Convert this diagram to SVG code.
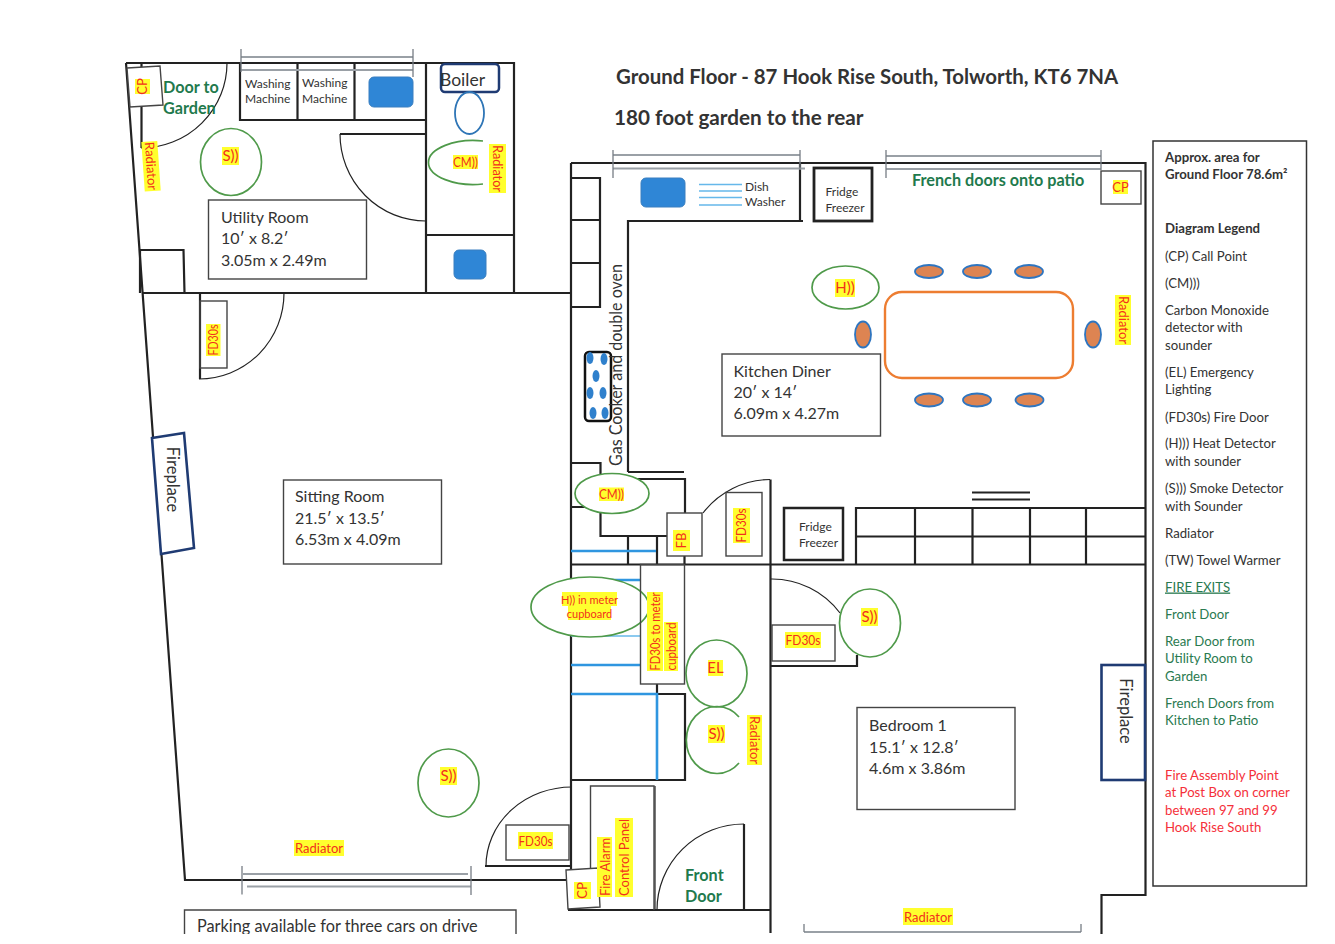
<svg xmlns="http://www.w3.org/2000/svg" width="1335" height="944" viewBox="0 0 1335 944">
<style>
text{font-family:Lato,"Liberation Sans",sans-serif;fill:#333}
.w{fill:none;stroke:#222;stroke-width:2.2}
.t{fill:none;stroke:#222;stroke-width:1.2}
.b{fill:none;stroke:#444;stroke-width:1.4}
.g{fill:none;stroke:#9aa0a6;stroke-width:1.8}
.gt{fill:none;stroke:#777d85;stroke-width:1.3}
.det{fill:#fff;stroke:#4f9a4a;stroke-width:1.7}
.detn{fill:none;stroke:#4f9a4a;stroke-width:1.7}
.hl{fill:#ffff2e}
.lb{fill:#f2301c;font-size:13px;text-anchor:middle}
.big{font-size:15px}
.sm{font-size:12px}
.rm{font-size:16px}
.sink{fill:#2f86d6;stroke:#3a7fc0;stroke-width:1}
.pipe{fill:none;stroke:#2f96e0;stroke-width:2.6}
.lt{fill:none;stroke:#66b8ea;stroke-width:1.6}
.hob{fill:#2f80cc}
.chair{fill:#dd8452;stroke:#2e75c0;stroke-width:1.8}
.nav{fill:#fff;stroke:#1f3b73;stroke-width:2.6}
.grn{fill:#1f7a4d;font-weight:700;font-size:16.2px}
.lg{font-size:13.2px;fill:#333}
.lgg{font-size:13.2px;fill:#2a7a50}
.lgr{font-size:13.2px;fill:#f5303a}
</style>
<rect width="1335" height="944" fill="#fff"/>

<g id="walls">
<path class="w" d="M126,63H514V293M126,63L185,880H567M141.500,63V148M426,63V293M426,235H514"/>
<path class="w" d="M240,63V120H426M297.500,63V120M354.500,63V120M340,134H426"/>
<path class="w" d="M140,293V250H183.500L184.500,293"/>
<path class="w" d="M142,293H571" style="stroke-width:1.800"/>
<path class="w" d="M200,293V379"/>
<path class="w" d="M485,866H572"/>
<path class="w" d="M571,163H1145.500V895H1101.500V934M571,163V870M628,472V221H803M800,163V221"/>
<path class="w" d="M571,178H600V307H571M571,220H600M571,263H600"/>
<path class="w" d="M571,463H600.500V507H571M600.500,507V536H667M628,472H684M628,479H685V513M628,536V564M657,536V564M684.500,556V564M571,564.500H1145"/>
<path class="w" d="M770.500,479.500V933"/>
<path class="w" d="M856,564V508H1145M856,536.500H1145M915,508V564M972.500,508V564M1030,508V564M1086,508V564M972,492.500H1030M972,499.500H1030"/>
<path class="w" d="M771,666H857V655"/>
<path class="w" d="M657,684V694H685V780H571M568,910H771M744,824V910"/>
</g>

<g id="doors">
<path class="t" d="M227,63A86 85 0 0 1 141,148M340,134A86 87 0 0 0 426,221M284,293A85 86 0 0 1 199,379M572,787A86 79 0 0 0 486,866M770,479.500A85 85 0 0 0 703,513M771,579A85 85 0 0 1 840,613"/>
<path class="t" d="M744,824A87 86 0 0 0 657,910M655,786V910"/>
</g>

<g id="windows">
<path class="g" d="M241,57H413M241,70H413M613,155H800M613,168.500H805M886,156H1101M886,169H1101M243,874H468M247,886.500H471M804,932H1081"/>
<path class="gt" d="M241,49V72M413,49V77M613,150V178M800,150V170M886,150V178M1101,150V170M242,866V894.500M471,866V895M804,924V932M1081,924V932"/>
</g>

<g id="fixtures">
<rect class="sink" x="369" y="77" width="44" height="30" rx="5"/>
<rect class="sink" x="454" y="250" width="32" height="29" rx="5"/>
<rect class="sink" x="641" y="178" width="44" height="29" rx="5"/>
<path class="lt" d="M699,184.500H742M699,191H742M699,197.500H742M699,205H742"/>
<rect x="441" y="64" width="58" height="28" rx="4" fill="none" stroke="#1f3b73" stroke-width="2.500"/>
<ellipse cx="469.500" cy="113" rx="14.500" ry="21" fill="none" stroke="#2e75b6" stroke-width="1.800"/>
<rect x="585" y="352" width="26" height="69" rx="4" fill="none" stroke="#111" stroke-width="2.500"/>
<g class="hob">
<ellipse cx="590" cy="358" rx="3.500" ry="6"/><ellipse cx="604" cy="359" rx="3.500" ry="6"/><ellipse cx="596" cy="376" rx="3.500" ry="6"/><ellipse cx="590" cy="393" rx="3.500" ry="6"/><ellipse cx="603" cy="393" rx="3.500" ry="6"/><ellipse cx="593" cy="413" rx="3.500" ry="6"/><ellipse cx="605" cy="413" rx="3.500" ry="6"/>
</g>
<path class="pipe" d="M571,551H656M571,580H640M571,665H640M571,694H657V780"/>
<path class="lt" d="M571,636H640"/>
</g>

<g id="table">
<rect x="885" y="292" width="188" height="86" rx="17" fill="#fff" stroke="#ed7d31" stroke-width="2.400"/>
<ellipse class="chair" cx="929" cy="271.500" rx="14" ry="6.500"/><ellipse class="chair" cx="977" cy="271.500" rx="14" ry="6.500"/><ellipse class="chair" cx="1029" cy="271.500" rx="14" ry="6.500"/>
<ellipse class="chair" cx="929" cy="400" rx="14" ry="6.500"/><ellipse class="chair" cx="977" cy="400" rx="14" ry="6.500"/><ellipse class="chair" cx="1029.500" cy="400" rx="14" ry="6.500"/>
<ellipse class="chair" cx="863" cy="334.500" rx="8" ry="13"/><ellipse class="chair" cx="1093" cy="334.500" rx="8" ry="13"/>
</g>

<g id="appliance-labels">
<text class="sm" x="245" y="88">Washing</text><text class="sm" x="245" y="103">Machine</text>
<text class="sm" x="302" y="87">Washing</text><text class="sm" x="302" y="103">Machine</text>
<text x="440" y="85.500" font-size="17.500">Boiler</text>
<text class="sm" x="745" y="191">Dish</text><text class="sm" x="745" y="206">Washer</text>
<rect x="814" y="168" width="58" height="53" fill="none" stroke="#222" stroke-width="2.800"/>
<text class="sm" x="825.500" y="196">Fridge</text><text class="sm" x="825.500" y="212">Freezer</text>
<rect x="784" y="508" width="59" height="52" fill="none" stroke="#222" stroke-width="2.500"/>
<text class="sm" x="799" y="531">Fridge</text><text class="sm" x="799" y="547">Freezer</text>
<text transform="rotate(-90 622 466)" x="622" y="466" font-size="17" textLength="202" lengthAdjust="spacingAndGlyphs">Gas Cooker and double oven</text>
</g>

<g id="exit-labels">
<text class="grn" x="163" y="93">Door to</text><text class="grn" x="163" y="114">Garden</text>
<text class="grn" x="912" y="186">French doors onto patio</text>
<text class="grn" x="685" y="881">Front</text><text class="grn" x="685" y="902">Door</text>
</g>

<g id="fireplaces">
<path class="nav" d="M152,438L184,433L194,548L161,554Z"/>
<text transform="rotate(90 172 479.500)" x="172" y="484.500" font-size="16.500" text-anchor="middle">Fireplace</text>
<rect class="nav" x="1101.500" y="665" width="43.500" height="115"/>
<text transform="rotate(90 1125 711)" x="1125" y="716" font-size="16.500" text-anchor="middle">Fireplace</text>
</g>

<g id="room-utility">
<rect class="b" x="208.500" y="200" width="158" height="79"/>
<text class="rm" x="221" y="223">Utility Room</text><text class="rm" x="221" y="244">10′ x 8.2′</text><text class="rm" x="221" y="266">3.05m x 2.49m</text>
</g>
<g id="room-sitting">
<rect class="b" x="283.500" y="480" width="158" height="84"/>
<text class="rm" x="295" y="502">Sitting Room</text><text class="rm" x="295" y="524">21.5′ x 13.5′</text><text class="rm" x="295" y="545">6.53m x 4.09m</text>
</g>
<g id="room-kitchen">
<rect class="b" x="722" y="354" width="158.500" height="82"/>
<text class="rm" x="733.500" y="377">Kitchen Diner</text><text class="rm" x="733.500" y="398">20′ x 14′</text><text class="rm" x="733.500" y="419">6.09m x 4.27m</text>
</g>
<g id="room-bedroom">
<rect class="b" x="857" y="707.500" width="158" height="102"/>
<text class="rm" x="869" y="731">Bedroom 1</text><text class="rm" x="869" y="753">15.1′ x 12.8′</text><text class="rm" x="869" y="774">4.6m x 3.86m</text>
</g>
<g id="parking">
<path class="b" d="M184.500,940V910H516V940"/>
<text x="197" y="932" font-size="16.300">Parking available for three cars on drive</text>
</g>

<g id="detectors">
<ellipse class="detn" cx="231" cy="162" rx="30.500" ry="33.500"/>
<rect class="hl" x="222" y="147" width="17" height="18"/><text class="lb big" x="230.500" y="161">S))</text>
<path class="detn" d="M483,141A45 22 0 1 0 483,184"/>
<rect class="hl" x="453" y="155" width="25" height="14"/><text class="lb" x="465.500" y="166.500" textLength="25" lengthAdjust="spacingAndGlyphs">CM))</text>
<ellipse class="det" cx="448.500" cy="783" rx="30.500" ry="34"/>
<rect class="hl" x="440" y="767" width="17" height="18"/><text class="lb big" x="448.500" y="781">S))</text>
<ellipse class="det" cx="845.500" cy="287.500" rx="33.500" ry="21.500"/>
<rect class="hl" x="835" y="279" width="20" height="18"/><text class="lb big" x="845" y="293">H))</text>
<ellipse class="det" cx="612" cy="493.500" rx="37" ry="20"/>
<rect class="hl" x="599" y="487.500" width="25" height="13.500"/><text class="lb" x="611.500" y="499" textLength="25" lengthAdjust="spacingAndGlyphs">CM))</text>
<ellipse class="det" cx="590" cy="607" rx="59" ry="30"/>
<rect class="hl" x="562" y="592" width="55" height="14"/><text class="lb" x="589.500" y="603.500" style="font-size:11px">H)) in meter</text>
<rect class="hl" x="568" y="606" width="43" height="14"/><text class="lb" x="589.500" y="617.500" style="font-size:11px">cupboard</text>
<ellipse class="det" cx="716.500" cy="673.500" rx="30.500" ry="33.500"/>
<rect class="hl" x="708" y="660" width="15" height="16"/><text class="lb big" x="715.500" y="673">EL</text>
<path class="detn" d="M739,717A30.500 33.500 0 1 0 739,763"/>
<rect class="hl" x="708" y="725" width="17" height="18"/><text class="lb big" x="716.500" y="739">S))</text>
<ellipse class="det" cx="870" cy="623" rx="30.500" ry="34"/>
<rect class="hl" x="861" y="608" width="17" height="18"/><text class="lb big" x="869.500" y="622">S))</text>
</g>

<g id="fire-doors">
<rect class="b" x="200" y="301" width="27" height="67"/>
<rect class="hl" x="206" y="324" width="14.500" height="32"/><text class="lb" transform="rotate(-90 213 340)" x="213" y="344.500" textLength="31" lengthAdjust="spacingAndGlyphs">FD30s</text>
<rect class="b" x="506" y="825" width="63" height="35"/>
<rect class="hl" x="518" y="832" width="35" height="17"/><text class="lb" x="535.500" y="845.500" textLength="34" lengthAdjust="spacingAndGlyphs">FD30s</text>
<rect class="b" x="726" y="492.500" width="36" height="63.500"/>
<rect class="hl" x="733" y="508" width="17" height="35"/><text class="lb" transform="rotate(-90 741.500 525.500)" x="741.500" y="530" textLength="34" lengthAdjust="spacingAndGlyphs">FD30s</text>
<rect class="b" x="772" y="625" width="63" height="36"/>
<rect class="hl" x="785" y="632" width="36" height="16"/><text class="lb" x="803" y="645" textLength="35" lengthAdjust="spacingAndGlyphs">FD30s</text>
<rect class="b" x="640.500" y="564.500" width="44" height="119.500"/>
<rect class="hl" x="647" y="592" width="16" height="79"/><text class="lb" transform="rotate(-90 655 631.500)" x="655" y="636" textLength="78" lengthAdjust="spacingAndGlyphs">FD30s to meter</text>
<rect class="hl" x="664" y="622" width="14" height="49"/><text class="lb" transform="rotate(-90 671 646.500)" x="671" y="651" textLength="48" lengthAdjust="spacingAndGlyphs">cupboard</text>
<rect x="667" y="513" width="35" height="43" fill="#fff" stroke="#444" stroke-width="1.400"/>
<rect class="hl" x="673" y="530" width="17" height="21"/><text class="lb" transform="rotate(-90 681.500 540.500)" x="681.500" y="545">FB</text>
</g>

<g id="call-points">
<path d="M127,68L160,66L163,105L130,107Z" fill="#fff" stroke="#444" stroke-width="1.400"/>
<rect class="hl" x="135" y="79" width="15" height="15"/><text class="lb" transform="rotate(-90 142.500 86.500)" x="142.500" y="91">CP</text>
<rect x="1101" y="171" width="40" height="33" fill="#fff" stroke="#444" stroke-width="1.400"/>
<rect class="hl" x="1113" y="180" width="15" height="14"/><text class="lb" x="1120.500" y="192">CP</text>
<path d="M566,870L598,868L600,907L568,909Z" fill="#fff" stroke="#444" stroke-width="1.400"/>
<rect class="hl" x="574" y="882" width="17" height="17"/><text class="lb" transform="rotate(-90 582.500 890.500)" x="582.500" y="895">CP</text>
</g>

<g id="control-panel">
<path class="b" d="M590.500,868V786H654V910"/>
<rect class="hl" x="597" y="837" width="15" height="60"/><text class="lb" transform="rotate(-90 604.500 867)" x="604.500" y="872" textLength="58" lengthAdjust="spacingAndGlyphs" style="font-size:14px">Fire Alarm</text>
<rect class="hl" x="615" y="818" width="18" height="79"/><text class="lb" transform="rotate(-90 624 857.500)" x="624" y="862.500" textLength="77" lengthAdjust="spacingAndGlyphs" style="font-size:14px">Control Panel</text>
</g>

<g id="radiators">
<g transform="rotate(-4 151 166)"><rect class="hl" x="143" y="141.500" width="16" height="49.500"/><text class="lb" transform="rotate(90 151 166)" x="151" y="170.500" textLength="48" lengthAdjust="spacingAndGlyphs">Radiator</text></g>
<rect class="hl" x="489" y="144" width="17" height="49"/><text class="lb" transform="rotate(90 497.500 168.500)" x="497.500" y="173" textLength="47" lengthAdjust="spacingAndGlyphs">Radiator</text>
<rect class="hl" x="1115" y="295" width="16" height="50"/><text class="lb" transform="rotate(90 1123 320)" x="1123" y="324.500" textLength="48" lengthAdjust="spacingAndGlyphs">Radiator</text>
<rect class="hl" x="747" y="715" width="15" height="50"/><text class="lb" transform="rotate(90 754.500 740)" x="754.500" y="744.500" textLength="48" lengthAdjust="spacingAndGlyphs">Radiator</text>
<rect class="hl" x="294" y="840" width="50" height="16"/><text class="lb" x="319" y="853" textLength="48" lengthAdjust="spacingAndGlyphs">Radiator</text>
<rect class="hl" x="903" y="908" width="50" height="17"/><text class="lb" x="928" y="921.500" textLength="48" lengthAdjust="spacingAndGlyphs">Radiator</text>
</g>

<g id="title">
<text x="616" y="84" font-size="20.400" font-weight="700">Ground Floor - 87 Hook Rise South, Tolworth, KT6 7NA</text>
<text x="614" y="125" font-size="20.700" font-weight="700">180 foot garden to the rear</text>
</g>

<g id="legend">
<rect x="1153" y="141" width="153.500" height="745" fill="#fff" stroke="#333" stroke-width="1.500"/>
<text class="lg" x="1165" y="162" font-weight="700">Approx. area for</text>
<text class="lg" x="1165" y="178.500" font-weight="700">Ground Floor 78.6m²</text>
<text class="lg" x="1165" y="233" font-weight="700">Diagram Legend</text>
<text class="lg" x="1165" y="260.500">(CP) Call Point</text>
<text class="lg" x="1165" y="288">(CM)))</text>
<text class="lg" x="1165" y="315">Carbon Monoxide</text>
<text class="lg" x="1165" y="332">detector with</text>
<text class="lg" x="1165" y="350">sounder</text>
<text class="lg" x="1165" y="377">(EL) Emergency</text>
<text class="lg" x="1165" y="394">Lighting</text>
<text class="lg" x="1165" y="421.500">(FD30s) Fire Door</text>
<text class="lg" x="1165" y="448">(H))) Heat Detector</text>
<text class="lg" x="1165" y="465.500">with sounder</text>
<text class="lg" x="1165" y="493">(S))) Smoke Detector</text>
<text class="lg" x="1165" y="510.500">with Sounder</text>
<text class="lg" x="1165" y="537.500">Radiator</text>
<text class="lg" x="1165" y="564.500">(TW) Towel Warmer</text>
<text class="lgg" x="1165" y="591.500" text-decoration="underline">FIRE EXITS</text>
<text class="lgg" x="1165" y="618.500">Front Door</text>
<text class="lgg" x="1165" y="645.500">Rear Door from</text>
<text class="lgg" x="1165" y="663">Utility Room to</text>
<text class="lgg" x="1165" y="680.500">Garden</text>
<text class="lgg" x="1165" y="707.500">French Doors from</text>
<text class="lgg" x="1165" y="725">Kitchen to Patio</text>
<text class="lgr" x="1165" y="779.500">Fire Assembly Point</text>
<text class="lgr" x="1165" y="797">at Post Box on corner</text>
<text class="lgr" x="1165" y="814.500">between 97 and 99</text>
<text class="lgr" x="1165" y="832">Hook Rise South</text>
</g>

<rect id="crop" x="0" y="934" width="1335" height="10" fill="#fff"/>
</svg>
